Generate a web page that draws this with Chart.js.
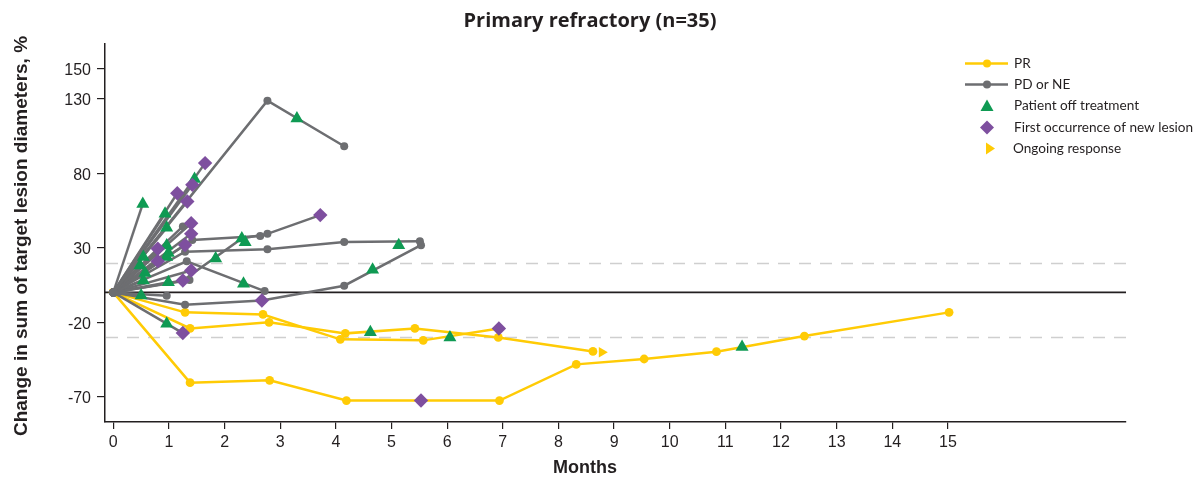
<!DOCTYPE html>
<html><head><meta charset="utf-8">
<script src="https://cdn.jsdelivr.net/npm/chart.js@4.4.1/dist/chart.umd.min.js"></script>
<style>html,body{margin:0;padding:0;background:#fff}#wrap{width:1194px;height:477px;position:relative}</style>
</head><body><div id="wrap"><canvas id="c" width="1194" height="477"></canvas></div>
<script>
// ---- data (months, % change) ----
const xTickValues = [0,1,2,3,4,5,6,7,8,9,10,11,12,13,14,15];
const yTickValues = [-70,-20,30,80,130,150];
const thresholds = [20,-30];

const prLine1 = [[0,0],[1.29,-13.4],[2.69,-14.8],[4.08,-31.5],[5.57,-32.2],[6.93,-24.2]];
const prLine2 = [[0,0],[1.38,-24.2],[2.80,-20.1],[4.17,-27.5],[5.42,-24.2],[6.92,-30.2],[8.62,-39.6]];
const prLine3 = [[0,0],[1.38,-60.6],[2.81,-59.0],[4.19,-72.6],[6.94,-72.6],[8.32,-48.3],[9.54,-44.7],[10.84,-39.8],[12.42,-29.3],[15.02,-13.4]];

const pdLines = [
  [[0,0],[2.77,128.7],[4.15,98.1]],
  [[0,0],[0.53,59.4]],
  [[0,0],[1.65,86.8]],
  [[0,0],[1.42,72.2]],
  [[0,0],[1.15,66.6]],
  [[0,0],[1.33,61.0]],
  [[0,0],[1.25,44.3]],
  [[0,0],[1.40,46.4]],
  [[0,0],[1.40,39.3]],
  [[0,0],[1.42,35.2],[2.64,37.9]],
  [[0,0],[1.32,20.9],[2.72,0.9]],
  [[0,0],[1.29,27.3],[2.77,29.0],[4.15,33.8],[5.51,34.4]],
  [[0,0],[0.96,-2.2]],
  [[0,0],[1.29,-8.3],[2.67,-5.4],[4.15,4.5],[5.53,31.7]],
  [[0,0],[1.25,-27.3]],
  [[0,0],[1.25,8.0],[2.31,36.2],[2.77,39.3],[3.72,51.9]],
  [[0,0],[1.37,8.3]],
  [[0,0],[1.40,14.7]],
  [[0,0],[1.29,31.8]],
  [[0,0],[0.54,23.7]],
  [[0,0],[0.48,18.1]],
  [[0,0],[0.57,13.0]],
  [[0,0],[0.54,8.0]],
  [[0,0],[0.50,-2.0]],
  [[0,0],[0.99,6.9]],
  [[0,0],[0.96,31.5]],
  [[0,0],[0.99,26.4]],
  [[0,0],[0.96,23.7]],
  [[0,0],[0.96,43.4]],
  [[0,0],[0.80,29.3]],
  [[0,0],[0.80,21.0]],
  [[0,0],[0.93,52.8]]
];

const offTreatment = [[0.53,59.4],[1.46,76.2],[0.93,52.8],[0.96,43.4],[3.30,116.8],[2.31,36.2],[2.37,33.6],[1.84,22.8],[2.34,5.8],[5.13,31.7],[4.66,15.2],[0.96,-21.0],[0.54,23.7],[0.48,18.1],[0.57,13.0],[0.54,8.0],[0.50,-2.0],[0.99,6.9],[0.96,31.5],[0.99,26.4],[0.96,23.7],[4.62,-26.8],[6.05,-30.2],[11.30,-36.7]];
const newLesion = [[1.65,86.8],[1.42,72.2],[1.15,66.6],[1.33,61.0],[1.40,46.4],[1.40,39.3],[1.29,31.8],[0.80,29.3],[0.80,21.0],[1.40,14.7],[1.25,8.0],[2.67,-5.4],[1.25,-27.3],[3.72,51.9],[6.93,-24.2],[5.53,-72.6]];
const ongoingResponse = [[8.78,-40.2]];

const legendLabels = ['PR','PD or NE','Patient off treatment','First occurrence of new lesion','Ongoing response'];

// ---- styling ----
const YELLOW = '#FFCB05', GREY = '#6D6E71', GREEN = '#0F9A53', PURPLE = '#7E4F9F', INK = '#231F20';
const markerKeys = new Set([...offTreatment, ...newLesion, ...ongoingResponse].map(p => p[0] + ',' + p[1]));
const toXY = pts => pts.map(p => ({x: p[0], y: p[1]}));

function lineDs(pts, color, order, r) {
  return {
    data: toXY(pts), showLine: true, borderColor: color, backgroundColor: color,
    borderWidth: 2.5, tension: 0, order: order,
    pointRadius: pts.map(p => markerKeys.has(p[0] + ',' + p[1]) ? 0 : r),
    pointBorderWidth: 0, pointHoverRadius: 0
  };
}
function markerDs(pts, style, color, r, rot) {
  return {
    data: toXY(pts), showLine: false, pointStyle: style, pointRadius: r, pointRotation: rot || 0,
    backgroundColor: color, borderColor: color, pointBorderWidth: 0, pointHoverRadius: 0, order: 0
  };
}

const datasets = [
  markerDs(ongoingResponse, 'triangle', YELLOW, 6, 90),
  markerDs(newLesion, 'rectRot', PURPLE, 7.2),
  markerDs(offTreatment, 'triangle', GREEN, 7.5),
  ...pdLines.map(l => lineDs(l, GREY, 1, 4)),
  lineDs(prLine1, YELLOW, 2, 4.4),
  lineDs(prLine2, YELLOW, 2, 4.4),
  lineDs(prLine3, YELLOW, 2, 4.4)
];

const refLines = {
  id: 'refLines',
  beforeDatasetsDraw(chart) {
    const {ctx, chartArea: a, scales: {y}} = chart;
    ctx.save();
    ctx.strokeStyle = '#cfcfcf'; ctx.lineWidth = 1.5; ctx.setLineDash([12, 9]);
    thresholds.forEach(v => {
      const py = Math.round(y.getPixelForValue(v)) + 0.5;
      ctx.beginPath(); ctx.moveTo(a.left + 1, py); ctx.lineTo(a.right, py); ctx.stroke();
    });
    ctx.setLineDash([]);
    ctx.strokeStyle = INK; ctx.lineWidth = 1.6;
    const z = y.getPixelForValue(0);
    ctx.beginPath(); ctx.moveTo(a.left, z); ctx.lineTo(a.right, z); ctx.stroke();
    ctx.restore();
  }
};

const texts = {
  id: 'texts',
  afterDraw(chart) {
    const ctx = chart.ctx;
    ctx.save();
    ctx.fillStyle = INK;
    ctx.textAlign = 'center'; ctx.textBaseline = 'middle';
    ctx.font = 'bold 20px "Open Sans"';
    ctx.fillText('Primary refractory (n=35)', 590, 21);
    ctx.font = 'bold 18px "Liberation Sans"';
    ctx.fillText('Months', 585, 468);
    ctx.save();
    ctx.translate(22, 236); ctx.rotate(-Math.PI / 2);
    ctx.font = 'bold 19px "Liberation Sans"';
    ctx.fillText('Change in sum of target lesion diameters, %', 0, 0);
    ctx.restore();

    // legend
    const rows = [63.5, 84.5, 106, 127.5, 148.5];
    const sx = 987;
    ctx.lineWidth = 2.5;
    [[YELLOW, 0], [GREY, 1]].forEach(([c, i]) => {
      ctx.strokeStyle = c; ctx.fillStyle = c;
      ctx.beginPath(); ctx.moveTo(965, rows[i]); ctx.lineTo(1008, rows[i]); ctx.stroke();
      ctx.beginPath(); ctx.arc(sx, rows[i], 4, 0, Math.PI * 2); ctx.fill();
    });
    ctx.fillStyle = GREEN;
    ctx.beginPath(); ctx.moveTo(sx, rows[2] - 6.5); ctx.lineTo(sx + 6.5, rows[2] + 5); ctx.lineTo(sx - 6.5, rows[2] + 5); ctx.closePath(); ctx.fill();
    ctx.fillStyle = PURPLE;
    ctx.beginPath(); ctx.moveTo(sx, rows[3] - 7); ctx.lineTo(sx + 7, rows[3]); ctx.lineTo(sx, rows[3] + 7); ctx.lineTo(sx - 7, rows[3]); ctx.closePath(); ctx.fill();
    ctx.fillStyle = YELLOW;
    ctx.beginPath(); ctx.moveTo(986, rows[4] - 6); ctx.lineTo(995, rows[4]); ctx.lineTo(986, rows[4] + 6); ctx.closePath(); ctx.fill();

    ctx.fillStyle = INK; ctx.textAlign = 'left';
    ctx.font = '13.6px Lato';
    legendLabels.forEach((t, i) => ctx.fillText(t, i === 4 ? 1013 : 1014, rows[i]));
    ctx.restore();
  }
};

new Chart(document.getElementById('c'), {
  type: 'scatter',
  data: {datasets},
  options: {
    responsive: false, animation: false, events: [],
    layout: {padding: {top: 43.5, right: 68, left: 0, bottom: 0}},
    plugins: {legend: {display: false}, tooltip: {enabled: false}, title: {display: false}},
    scales: {
      x: {
        type: 'linear', min: -0.149, max: 18.2,
        afterBuildTicks: s => { s.ticks = xTickValues.map(v => ({value: v})); },
        afterFit: s => { s.height = 55; },
        grid: {drawOnChartArea: false, drawTicks: true, tickLength: 7, color: INK, lineWidth: 1.2},
        border: {display: true, color: INK, width: 1.5},
        ticks: {font: {family: 'Liberation Sans', size: 16}, color: INK, padding: 4, maxRotation: 0, autoSkip: false}
      },
      y: {
        type: 'linear', min: -87, max: 167.1,
        afterBuildTicks: s => { s.ticks = yTickValues.map(v => ({value: v})); },
        afterFit: s => { s.width = 105; },
        grid: {drawOnChartArea: false, drawTicks: true, tickLength: 8, color: INK, lineWidth: 1.2},
        border: {display: true, color: INK, width: 1.5},
        ticks: {font: {family: 'Liberation Sans', size: 16}, color: INK, padding: 6, labelOffset: 2, autoSkip: false}
      }
    }
  },
  plugins: [refLines, texts]
});
</script>
</body></html>
